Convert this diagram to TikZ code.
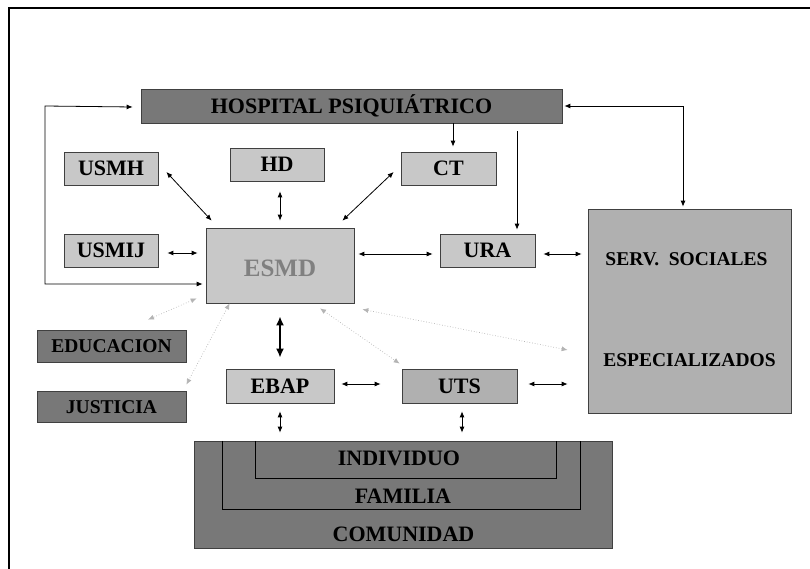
\documentclass[tikz,border=0pt]{standalone}
\usepackage{fontspec}
\setmainfont{Liberation Serif}
\usetikzlibrary{calc, arrows.meta}
\definecolor{darkbox}{HTML}{787878}
\definecolor{lightbox}{HTML}{C8C8C8}
\definecolor{midbox}{HTML}{B0B0B0}
\definecolor{edge}{HTML}{404040}
\definecolor{dotgray}{HTML}{B4B4B4}
\definecolor{esmdtext}{HTML}{808080}

\begin{document}
\begin{tikzpicture}[x=1pt,y=-1pt,
    box/.style={draw=edge, line width=0.7pt, minimum height=33pt, inner sep=0pt,
      text height=14.6pt, text depth=0pt, font=\bfseries\fontsize{22}{26}\selectfont},
    light/.style={box, fill=lightbox},
    dark/.style={box, fill=darkbox},
    mid/.style={box, fill=midbox},
    lbl/.style={inner sep=0pt, text height=14.6pt, text depth=0pt,
      font=\bfseries\fontsize{22}{26}\selectfont},
    small/.style={text height=13pt, font=\bfseries\fontsize{19.5}{23}\selectfont},
    twoway/.style={{Latex[length=6pt,width=5pt]}-{Latex[length=6pt,width=5pt]}, line width=0.8pt},
    oneway/.style={-{Latex[length=6pt,width=5pt]}, line width=0.8pt},
    faint/.style={{Latex[length=6pt,width=5pt]}-{Latex[length=6pt,width=5pt]},
      dotgray, dotted, line width=0.7pt}]
  \useasboundingbox (0,0) rectangle (810,569);

  % Frame
  \draw[line width=2pt] (9,569) -- (9,8) -- (810,8);

  % Boxes
  \node[dark, minimum width=421pt, minimum height=34pt] (hosp) at (351.5,106) {HOSPITAL PSIQUIÁTRICO};
  \node[light, minimum width=94pt] (usmh) at (111,168.5) {USMH};
  \node[light, minimum width=94pt] (hd) at (277,164.5) {HD};
  \node[light, minimum width=95pt] (ct) at (448.5,168.5) {CT};
  \node[light, minimum width=94pt] (usmij) at (111,250.5) {USMIJ};
  \node[light, minimum width=148pt, minimum height=75pt, text=esmdtext, text height=22pt,
    font=\bfseries\fontsize{25}{30}\selectfont] (esmd) at (280,265.5) {ESMD};
  \node[light, minimum width=95pt] (ura) at (487.5,250.5) {URA};
  \node[mid, minimum width=203pt, minimum height=204pt] (serv) at (689.5,311) {};
  \node[lbl, small] (servtop) at (686.5,259) {SERV.\ \ SOCIALES};
  \node[lbl, small] (servbot) at (689.5,360) {ESPECIALIZADOS};
  \node[dark, small, minimum width=149pt, minimum height=32pt] (educ) at (111.5,346) {EDUCACION};
  \node[dark, small, minimum width=149pt, minimum height=31pt] (just) at (111.5,406.5) {JUSTICIA};
  \node[light, minimum width=108pt, minimum height=34pt] (ebap) at (280,386) {EBAP};
  \node[mid, minimum width=115pt, minimum height=34pt] (uts) at (459.5,386) {UTS};

  % Community rings
  \node[dark, minimum width=418pt, minimum height=107pt] (comu) at (403,494.5) {};
  \node[inner sep=0pt, minimum width=357pt, minimum height=68pt] (fam) at (401.5,475) {};
  \node[inner sep=0pt, minimum width=300pt, minimum height=37pt] (ind) at (406,459.5) {};
  \draw[line width=0.7pt] (fam.north west) |- (fam.south east) -- (fam.north east);
  \draw[line width=0.7pt] (ind.north west) |- (ind.south east) -- (ind.north east);
  \node[lbl] (indtxt) at (399,458) {INDIVIDUO};
  \node[lbl] (famtxt) at (403,496) {FAMILIA};
  \node[lbl] (comutxt) at (403.5,534) {COMUNIDAD};

  % Hospital links
  \coordinate (loopx) at (45,0);
  \draw[twoway] ($(hosp.west)+(-8,1)$) -- (loopx |- hosp.west) -- ($(loopx |- esmd.west)+(0,18.5)$)
    -- ($(esmd.west)+(-3,18.5)$);
  \draw[oneway] ($(hosp.south -| ct.north)+(4.5,0)$) -- ($(ct.north)+(4.5,-5)$);
  \draw[oneway] ($(hosp.south -| ura.north)+(29.5,8)$) -- ($(ura.north)+(29.5,-4)$);
  \draw[twoway] ($(hosp.east)+(2,0)$) -| ($(serv.north)+(-6.5,-2)$);

  % ESMD links
  \draw[twoway] ($(usmh.east)+(8,3.5)$) -- ($(esmd.north west)+(6,-7)$);
  \draw[twoway] ($(hd.south -| esmd.north)+(0,10)$) -- ($(esmd.north)+(0,-7)$);
  \draw[twoway] ($(ct.west)+(-7,3.5)$) -- ($(esmd.north east)+(-12,-7)$);
  \draw[twoway] ($(usmij.east)+(9,2.5)$) -- ($(esmd.west |- usmij.east)+(-8,2.5)$);
  \draw[twoway] ($(esmd.east |- ura.west)+(4,3.5)$) -- ($(ura.west)+(-7,3.5)$);
  \draw[twoway] ($(ura.east)+(8,3.5)$) -- ($(serv.west |- ura.east)+(-6,3.5)$);
  \draw[{Latex[length=9pt,width=8pt]}-{Latex[length=9pt,width=8pt]}, line width=2pt]
    ($(esmd.south)+(0,13)$) -- ($(ebap.north)+(0,-11)$);

  % Lower links
  \draw[twoway] ($(ebap.east)+(7,-2)$) -- ($(uts.west)+(-21,-2)$);
  \draw[twoway] ($(uts.east)+(11,-2)$) -- ($(serv.west |- uts.east)+(-20,-2)$);
  \draw[twoway] ($(ebap.south)+(0,8)$) -- ($(ebap.south |- comu.north)+(0,-8)$);
  \draw[twoway] ($(uts.south)+(2.5,8)$) -- ($(uts.south |- comu.north)+(2.5,-8)$);

  % Dotted links
  \draw[faint] ($(esmd.south west)+(-9,-5)$) -- ($(educ.north)+(36.5,-10)$);
  \draw[faint] ($(esmd.south west)+(24,0)$) -- ($(just.north east)+(0,-6)$);
  \draw[faint] ($(esmd.south)+(40,5)$) -- ($(uts.north west)+(-2,-5)$);
  \draw[faint] ($(esmd.south east)+(8,6)$) -- ($(serv.west)+(-20,39)$);
\end{tikzpicture}
\end{document}
